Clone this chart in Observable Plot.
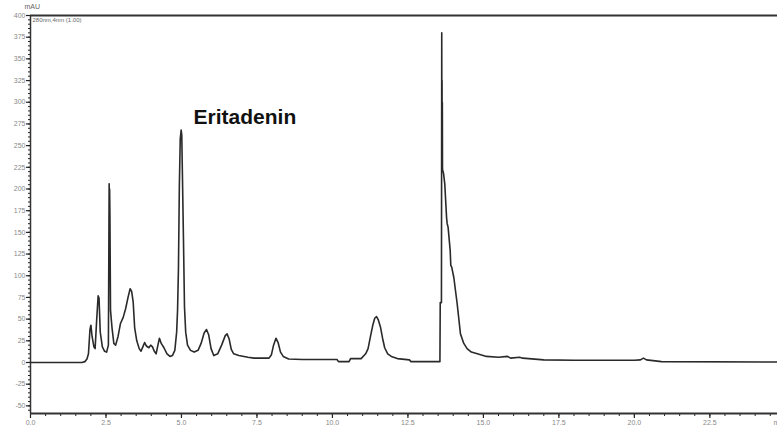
<!DOCTYPE html>
<html>
<head>
<meta charset="utf-8">
<script src="https://cdn.jsdelivr.net/npm/d3@7"></script>
<script src="https://cdn.jsdelivr.net/npm/@observablehq/plot@0.6"></script>
<style>
  html, body { margin: 0; padding: 0; background: #fff; }
  #chart svg { display: block; overflow: visible; }
</style>
</head>
<body>
<div id="chart"></div>
<script>
// Retention time (min) and absorbance (mAU)
const times = [
  0.00, 1.70, 1.80, 1.87, 1.92, 1.97, 2.00, 2.04, 2.10, 2.14,
  2.19, 2.24, 2.27, 2.31, 2.38, 2.45, 2.52, 2.58, 2.605, 2.615,
  2.62, 2.63, 2.65, 2.70, 2.76, 2.82, 2.90, 2.98, 3.07, 3.15,
  3.23, 3.30, 3.35, 3.40, 3.45, 3.52, 3.60, 3.66, 3.72, 3.78,
  3.84, 3.92, 3.98, 4.04, 4.10, 4.16, 4.22, 4.27, 4.33, 4.42,
  4.52, 4.62, 4.70, 4.78, 4.84, 4.87, 4.90, 4.93, 4.96, 4.99,
  5.01, 5.04, 5.07, 5.10, 5.14, 5.20, 5.30, 5.42, 5.55, 5.65,
  5.75, 5.83, 5.90, 5.98, 6.07, 6.20, 6.33, 6.45, 6.51, 6.58,
  6.65, 6.73, 6.90, 7.20, 7.40, 7.90, 7.98, 8.05, 8.13, 8.20,
  8.28, 8.37, 8.55, 9.00, 10.15, 10.20, 10.55, 10.60, 10.95, 11.10,
  11.18, 11.26, 11.33, 11.40, 11.46, 11.52, 11.59, 11.66, 11.73, 11.83,
  11.95, 12.15, 12.55, 12.60, 13.56, 13.57, 13.61, 13.62, 13.625, 13.63,
  13.635, 13.64, 13.645, 13.65, 13.68, 13.70, 13.72, 13.78, 13.80, 13.83,
  13.90, 13.92, 13.95, 14.02, 14.13, 14.24, 14.35, 14.46, 14.60, 14.80,
  15.10, 15.50, 15.80, 15.90, 16.20, 16.30, 16.50, 17.00, 18.00, 20.00,
  20.20, 20.30, 20.40, 20.90, 24.80
];
const mAU = [
  0, 0, 1, 4, 10, 38, 43, 30, 18, 16,
  48, 77, 74, 35, 18, 13, 12, 20, 206, 175,
  200, 172, 60, 40, 22, 20, 30, 45, 52, 62,
  75, 85, 82, 70, 40, 25, 16, 13, 18, 23,
  19, 17, 20, 18, 13, 10, 20, 28, 22, 17,
  10, 7, 8, 14, 35, 60, 108, 204, 258, 268,
  262, 198, 133, 64, 35, 20, 14, 12, 14, 22,
  34, 38, 32, 16, 8, 10, 20, 31, 33, 27,
  15, 10, 8, 6, 5, 5, 9, 20, 28, 23,
  12, 7, 4, 3.5, 3.5, 1, 1, 4.5, 4.5, 10,
  16, 30, 42, 51, 53, 49, 41, 28, 17, 10,
  7, 4.5, 3, 1, 1, 69, 69, 380, 240, 325,
  228, 300, 225, 222, 218, 212, 206, 167, 160, 156,
  129, 112, 110, 98, 68, 33, 22, 16, 12, 10,
  7, 6, 7, 5, 6, 5, 4.5, 3, 2.5, 2.5,
  3, 5, 3, 1, 0.5
];

const xTicks = [0, 2.5, 5, 7.5, 10, 12.5, 15, 17.5, 20, 22.5];
const xTickLabels = ["0.0", "2.5", "5.0", "7.5", "10.0", "12.5", "15.0", "17.5", "20.0", "22.5"];
const yTicks = [-50, -25, 0, 25, 50, 75, 100, 125, 150, 175, 200, 225, 250, 275, 300, 325, 350, 375, 400];
const peakName = ["Eritadenin"];
const peakTime = [5.4];
const peakLabelValue = [283];

const data = times.map((t, i) => ({t, v: mAU[i]}));
const xMinor = d3.range(0, 24.8, 0.5);
const yMinor = d3.range(-55, 401, 5);
const yMin = -58.8, yMax = 400;
const tickFont = "Liberation Sans, Arial, sans-serif";

const chart = Plot.plot({
  width: 777,
  height: 430,
  marginLeft: 30,
  marginRight: 0,
  marginTop: 15,
  marginBottom: 17,
  style: {fontFamily: tickFont, background: "#fff"},
  x: {domain: [0, 24.74], label: null},
  y: {domain: [yMin, yMax], label: null},
  marks: [
    // minor ticks
    Plot.axisX({ticks: xMinor, tickSize: 3, tickFormat: () => "", stroke: "#222", strokeWidth: 1}),
    Plot.axisY({ticks: yMinor, tickSize: 2, tickFormat: () => "", stroke: "#222", strokeWidth: 1}),
    // major ticks
    Plot.axisX({ticks: xTicks, tickSize: 5, tickPadding: 2, tickFormat: (d, i) => xTickLabels[i],
      fontSize: 7, fill: "#888", stroke: "#222", strokeWidth: 1.2}),
    Plot.axisY({ticks: yTicks, tickSize: 4, tickPadding: 1, tickFormat: d => String(d),
      fontSize: 7, fill: "#888", stroke: "#222", strokeWidth: 1.2}),
    // frame lines
    Plot.ruleY([yMax], {stroke: "#333", strokeWidth: 2}),
    Plot.ruleY([yMin], {stroke: "#333", strokeWidth: 2}),
    Plot.ruleX([0], {stroke: "#333", strokeWidth: 1.5}),
    // chromatogram trace
    Plot.line(data, {x: "t", y: "v", stroke: "#2a2a2a", strokeWidth: 1.6, curve: "linear"}),
    // annotations
    Plot.text(peakName, {x: peakTime, y: peakLabelValue, text: d => d, textAnchor: "start",
      fontSize: 21, fontWeight: "bold", fill: "#111", fontFamily: tickFont}),
    Plot.text(["mAU"], {frameAnchor: "top-left", dx: -6, dy: -11, fontSize: 7, fill: "#666", textAnchor: "start"}),
    Plot.text(["280nm,4nm (1.00)"], {frameAnchor: "top-left", dx: 2, dy: 2, fontSize: 6, fill: "#666", textAnchor: "start"}),
    Plot.text(["min"], {frameAnchor: "bottom-right", dx: -4, dy: 11, fontSize: 7, fill: "#888", textAnchor: "start"})
  ]
});
document.getElementById("chart").appendChild(chart);
</script>
</body>
</html>
